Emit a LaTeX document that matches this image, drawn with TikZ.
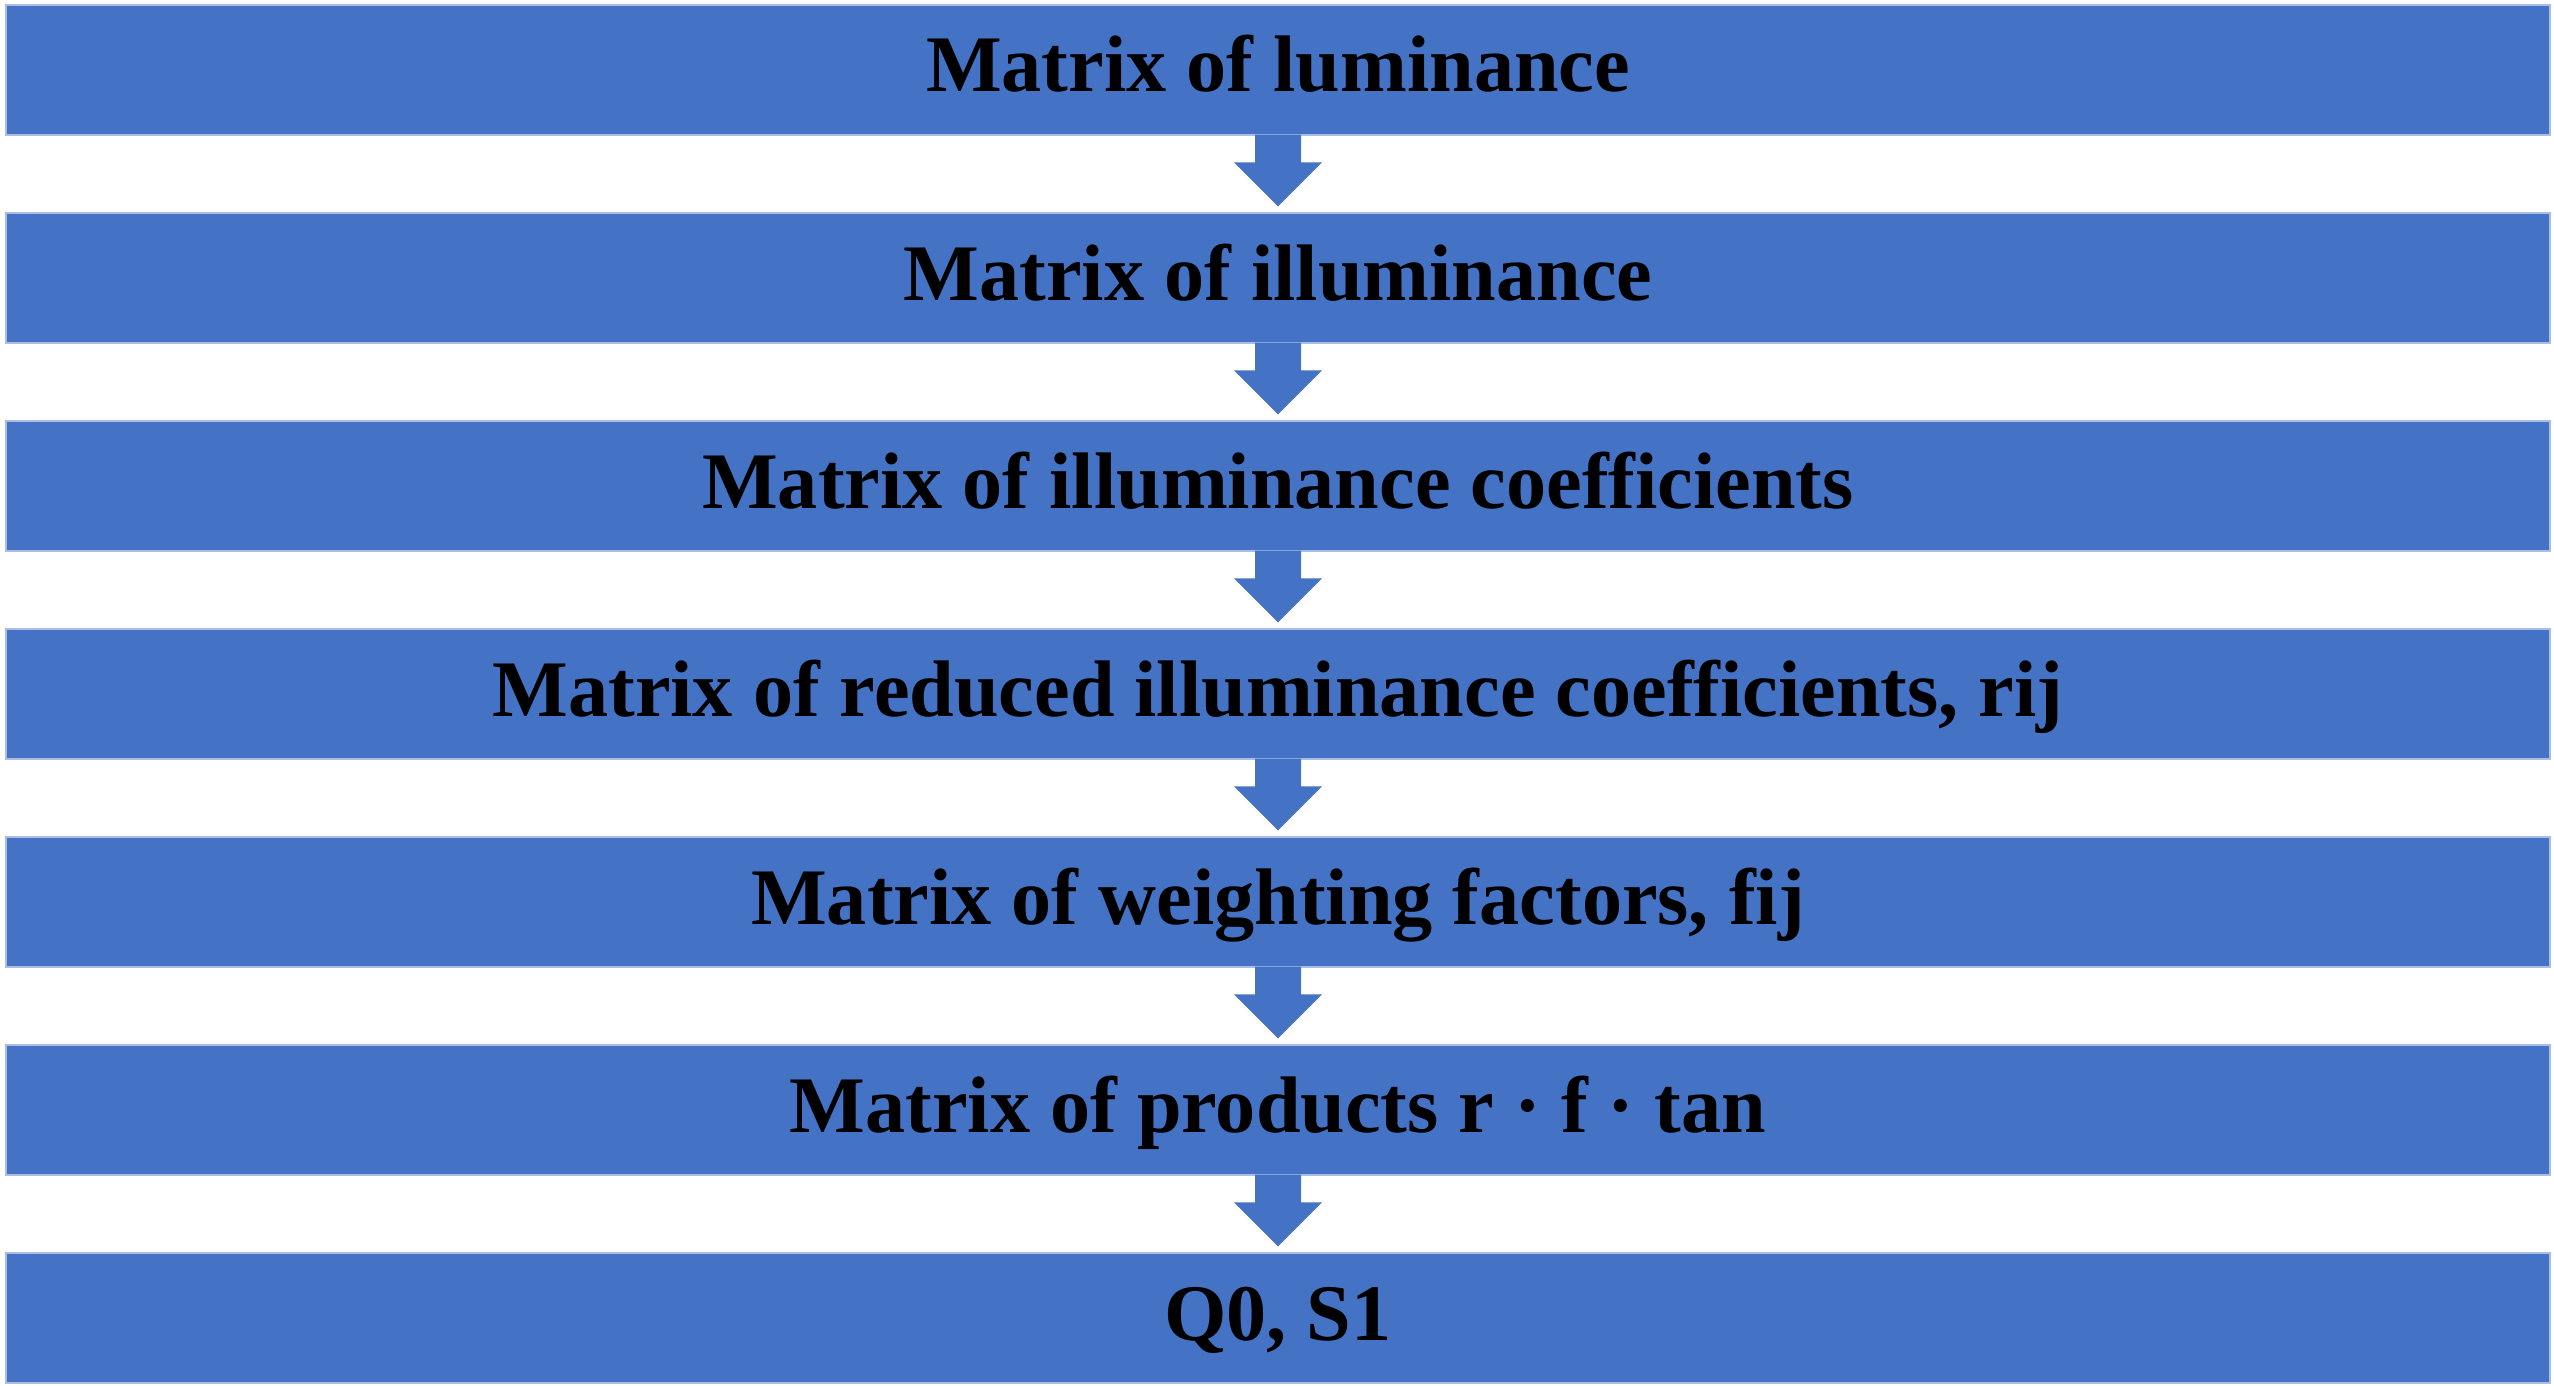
\documentclass[tikz,border=0pt]{standalone}
\usepackage{fontspec}
\setmainfont{Liberation Serif}
\usetikzlibrary{calc}
\definecolor{boxblue}{HTML}{4472C4}
\definecolor{edgeblue}{HTML}{A9BDE6}
\begin{document}
\begin{tikzpicture}[x=1pt,y=-1pt,
  stage/.style={rectangle, fill=boxblue, draw=edgeblue, line width=1.2pt,
    minimum width=2544pt, minimum height=130pt, inner sep=0pt,
    text height=60pt, text depth=16pt,
    font=\bfseries\fontsize{80.2}{90}\selectfont, text=black},
  flow/.style={fill=boxblue}]
\useasboundingbox (0,0) rectangle (2554,1386);
\node[stage] (b1) at (1278,70)   {Matrix of luminance};
\node[stage] (b2) at (1278,278)  {Matrix of illuminance};
\node[stage] (b3) at (1278,486)  {Matrix of illuminance coefficients};
\node[stage] (b4) at (1278,694)  {Matrix of reduced illuminance coefficients, rij};
\node[stage] (b5) at (1278,902)  {Matrix of weighting factors, fij};
\node[stage] (b6) at (1278,1110) {Matrix of products r \textperiodcentered{} f \textperiodcentered{} tan};
\node[stage] (b7) at (1278,1318) {Q0, S1};
\foreach \a/\b in {b1/b2,b2/b3,b3/b4,b4/b5,b5/b6,b6/b7}{
  \fill[flow] ($(\a.south)+(-23,-1)$) -- ($(\a.south)+(23,-1)$)
    -- ($(\b.north)+(23,-50)$) -- ($(\b.north)+(44,-50)$)
    -- ($(\b.north)+(0,-6)$) -- ($(\b.north)+(-44,-50)$)
    -- ($(\b.north)+(-23,-50)$) -- cycle;
}
\end{tikzpicture}
\end{document}
